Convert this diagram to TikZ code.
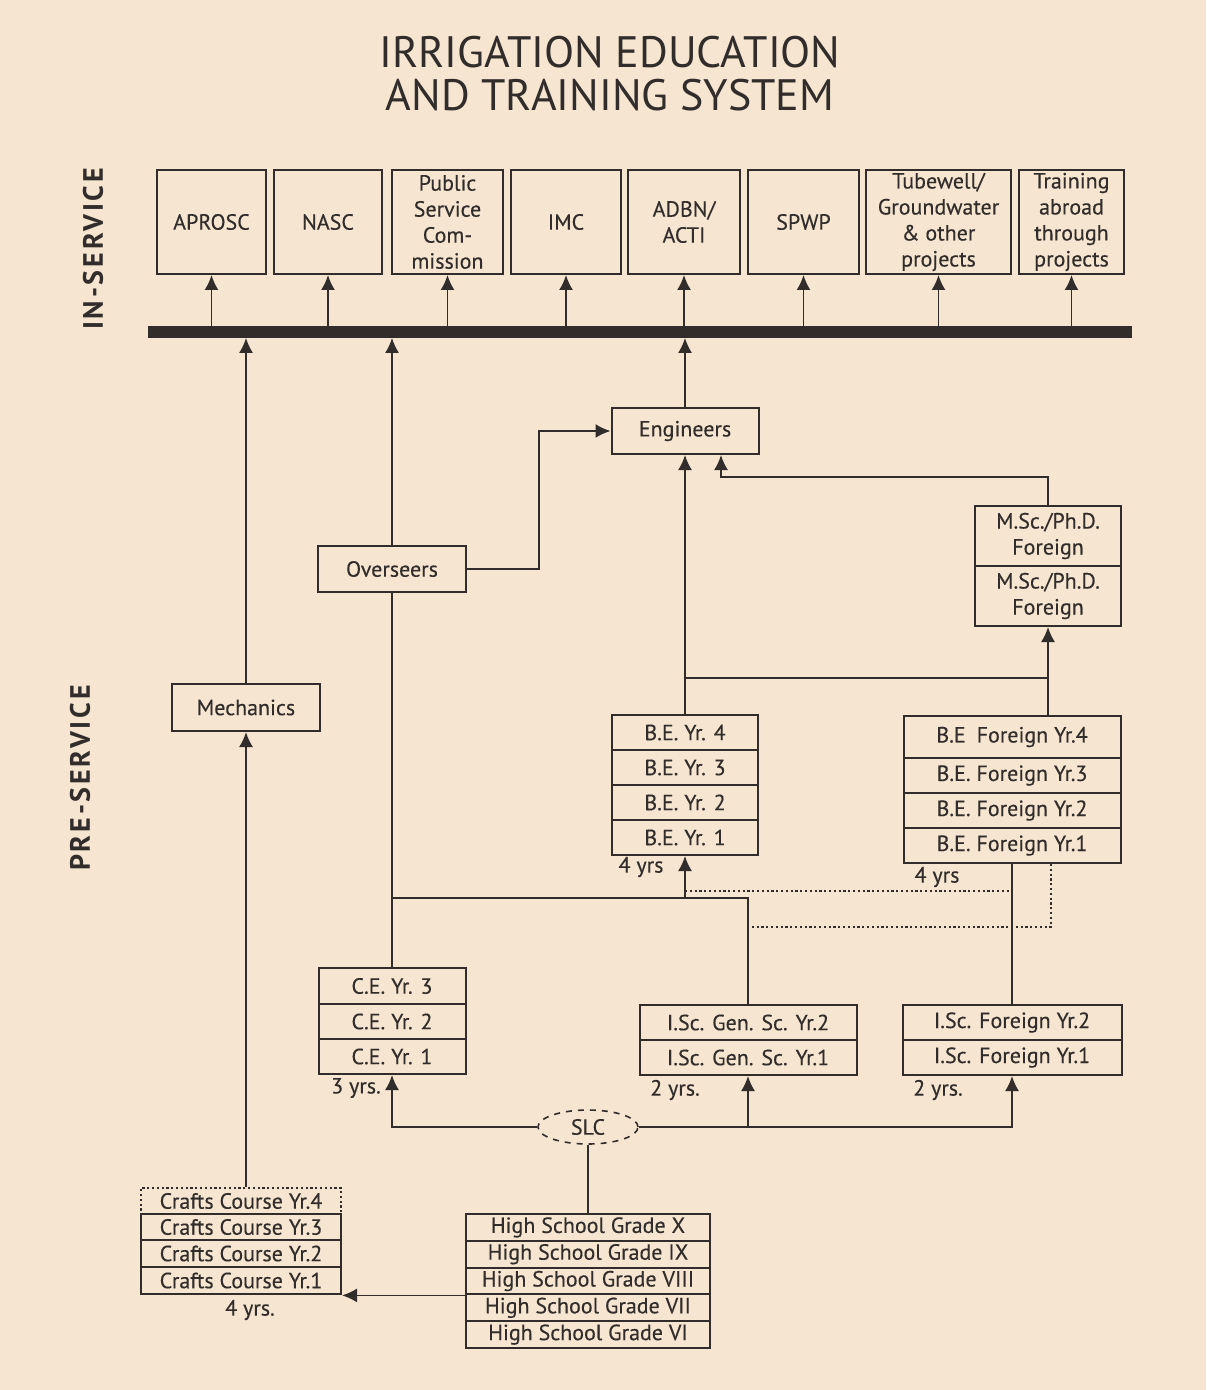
\documentclass[tikz,border=0pt]{standalone}
\usepackage{fontspec}
\setmainfont[FakeBold=0.3]{PT Sans}
\newfontfamily\titlefont{PT Sans}
\newfontfamily\sidefont[LetterSpace=10]{PT Sans}
\usetikzlibrary{arrows.meta,shapes.geometric}
\definecolor{paper}{RGB}{245,229,209}
\definecolor{ink}{RGB}{50,45,42}
\begin{document}
\begin{tikzpicture}[x=0.5pt,y=-0.5pt,
  every node/.style={text=ink},
  sz/.style 2 args={minimum width=#1*0.5pt,minimum height=#2*0.5pt},
  bx/.style={draw=ink,line width=1pt,inner sep=0pt,align=center,
    font=\fontsize{11}{13}\selectfont},
  lbl/.style={inner sep=0pt,font=\fontsize{11}{13}\selectfont},
  ln/.style={draw=ink,line width=0.9pt},
  arr/.style={ln,-{Latex[width=7pt,length=7.5pt]}},
  dots/.style={ln,dash pattern=on 1.1pt off 1.3pt},
  side/.style={rotate=90,inner sep=0pt,font=\sidefont\fontsize{14}{16}\selectfont\bfseries}]
\fill[paper] (0,0) rectangle (1206,1390);
\useasboundingbox (0,0) rectangle (1206,1390);

% title and side headings
\node[align=center,inner sep=0pt,font=\titlefont\fontsize{22}{21.5}\selectfont]
  (title) at (610,74) {IRRIGATION EDUCATION\\AND TRAINING SYSTEM};
\node[side] (insvc) at (93,249) {IN-SERVICE};
\node[side] (presvc) at (80,778) {PRE-SERVICE};

% in-service employers
\node[bx,sz={109}{104}] (aprosc) at (211.5,222) {APROSC};
\node[bx,sz={108}{104}] (nasc) at (328,222) {NASC};
\node[bx,sz={111}{104}] (psc) at (447.5,222) {Public\\Service\\Com-\\mission};
\node[bx,sz={110}{104}] (imc) at (566,222) {IMC};
\node[bx,sz={112}{104}] (adbn) at (684,222) {ADBN/\\ACTI};
\node[bx,sz={111}{104}] (spwp) at (803.5,222) {SPWP};
\node[bx,sz={145}{104}] (tube) at (938.5,222) {Tubewell/\\Groundwater\\\& other\\projects};
\node[bx,sz={105}{104}] (train) at (1071.5,222) {Training\\abroad\\through\\projects};

% distribution bar
\node[fill=ink,inner sep=0pt,sz={984}{11}] (bar) at (640,332) {};

% graduate groups
\node[bx,sz={147}{46}] (eng) at (685,431) {Engineers};
\node[bx,sz={148}{46}] (ovs) at (392,569) {Overseers};
\node[bx,sz={148}{47}] (mech) at (246,707.5) {Mechanics};

% postgraduate abroad
\node[bx,sz={146}{60}] (msc2) at (1048,536) {M.Sc./Ph.D.\\Foreign};
\node[bx,sz={146}{60}] (msc1) at (1048,596) {M.Sc./Ph.D.\\Foreign};

% B.E. at home
\node[bx,sz={146}{35}] (be4) at (685,732.5) {B.E. Yr. 4};
\node[bx,sz={146}{35}] (be3) at (685,767.5) {B.E. Yr. 3};
\node[bx,sz={146}{35}] (be2) at (685,802.5) {B.E. Yr. 2};
\node[bx,sz={146}{35}] (be1) at (685,837.5) {B.E. Yr. 1};
\node[lbl] (be-yrs) at (641,867) {4 yrs};

% B.E. abroad
\node[bx,sz={217}{42}] (bef4) at (1012,737) {B.E\enspace Foreign Yr.4};
\node[bx,sz={217}{35}] (bef3) at (1012,775.5) {B.E. Foreign Yr.3};
\node[bx,sz={217}{35}] (bef2) at (1012,810.5) {B.E. Foreign Yr.2};
\node[bx,sz={217}{35}] (bef1) at (1012,845.5) {B.E. Foreign Yr.1};
\node[lbl] (bef-yrs) at (937,877) {4 yrs};

% certificate in engineering
\node[bx,sz={147}{36}] (ce3) at (392,986) {C.E. Yr. 3};
\node[bx,sz={147}{35}] (ce2) at (392,1021.5) {C.E. Yr. 2};
\node[bx,sz={147}{35}] (ce1) at (392,1056.5) {C.E. Yr. 1};
\node[lbl] (ce-yrs) at (356,1088) {3 yrs.};

% intermediate science
\node[bx,sz={217}{35}] (isg2) at (748,1022.5) {I.Sc. Gen. Sc. Yr.2};
\node[bx,sz={217}{35}] (isg1) at (748,1057.5) {I.Sc. Gen. Sc. Yr.1};
\node[lbl] (isg-yrs) at (675,1090) {2 yrs.};
\node[bx,sz={219}{35}] (isf2) at (1012,1022.5) {I.Sc. Foreign Yr.2};
\node[bx,sz={219}{35}] (isf1) at (1012,1057.5) {I.Sc. Foreign Yr.1};
\node[lbl] (isf-yrs) at (938,1090) {2 yrs.};

% school leaving certificate
\node[draw=ink,dashed,line width=0.8pt,ellipse,inner sep=0pt,sz={100}{34},
  font=\fontsize{11}{13}\selectfont] (slc) at (588,1127) {SLC};

% high school
\node[bx,sz={244}{26.8}] (hs10) at (588,1227.4) {High School Grade X};
\node[bx,sz={244}{26.8}] (hs9) at (588,1254.2) {High School Grade IX};
\node[bx,sz={244}{26.8}] (hs8) at (588,1281.0) {High School Grade VIII};
\node[bx,sz={244}{26.8}] (hs7) at (588,1307.8) {High School Grade VII};
\node[bx,sz={244}{26.8}] (hs6) at (588,1334.6) {High School Grade VI};

% crafts course
\node[bx,dots,sz={200}{26}] (cr4) at (241,1201) {Crafts Course Yr.4};
\node[bx,sz={200}{26}] (cr3) at (241,1227) {Crafts Course Yr.3};
\node[bx,sz={200}{27}] (cr2) at (241,1253.5) {Crafts Course Yr.2};
\node[bx,sz={200}{27}] (cr1) at (241,1280.5) {Crafts Course Yr.1};
\node[lbl] (cr-yrs) at (250,1310) {4 yrs.};

% bar to employers
\foreach \n in {aprosc,nasc,psc,imc,adbn,spwp,tube,train}
  \draw[arr] (bar.north -| \n.south) -- (\n.south);

% graduates to bar
\draw[arr] (mech.north) -- (mech.north |- bar.south);
\draw[arr] (ovs.north) -- (ovs.north |- bar.south);
\draw[arr] (eng.north) -- (eng.north |- bar.south);

% overseers upgrading to engineers
\draw[arr] (ovs.east) -- ++(72,0) |- (eng.west);

% postgraduates to engineers
\draw[arr] (msc2.north) -- ++(0,-28) -| ([xshift=18pt]eng.south);

% B.E. graduates
\draw[arr] (be4.north) -- (eng.south);
\draw[arr] (bef4.north -| msc1.south) -- (msc1.south);
\draw[ln] (be4.north |- 0,678) -- (msc1.south |- 0,678);

% C.E. to overseers
\draw[ln] (ce3.north) -- (ovs.south);

% entry to B.E.
\draw[ln] (isg2.north) |- (ce3.north |- 0,898);
\draw[arr] (be1.south |- 0,898) -- (be1.south);
\draw[dots] (be1.south |- 0,891) -- (isf2.north |- 0,891);
\draw[ln] (isf2.north) -- (isf2.north |- bef1.south);
\draw[dots] ([xshift=19.5pt]bef1.south) |- (isg2.north |- 0,927);

% SLC to further study
\draw[arr] (slc.west) -| (ce1.south);
\draw[arr] (slc.east) -| (isf1.south);
\draw[arr] (isg1.south |- slc.east) -- (isg1.south);
\draw[ln] (hs10.north) -- (slc.south);

% high school to crafts course, crafts to mechanics
\draw[arr] (hs8.south west) -- (hs8.south west -| cr1.east);
\draw[arr] (cr4.north -| mech.south) -- (mech.south);
\end{tikzpicture}
\end{document}
